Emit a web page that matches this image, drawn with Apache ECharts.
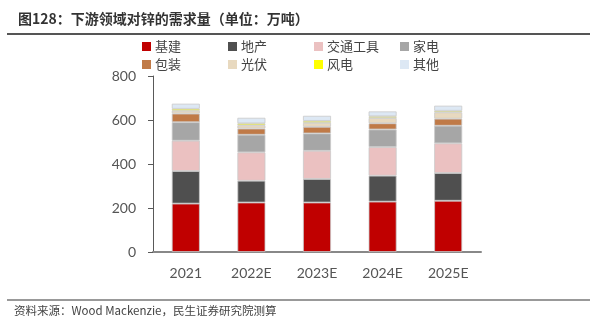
<!DOCTYPE html>
<html>
<head>
<meta charset="utf-8">
<script src="https://cdn.jsdelivr.net/npm/echarts@6/dist/echarts.min.js"></script>
<style>html,body{margin:0;padding:0;background:#fff;}#c{width:597px;height:323px;}</style>
</head>
<body>
<div id="c"></div>
<script>
const categories = ['2021', '2022E', '2023E', '2024E', '2025E'];
const infra     = [220, 225, 225, 229, 233];
const realty    = [148,  99, 107, 118, 126];
const transport = [138, 129, 128, 130, 135];
const appliance = [ 84,  80,  79,  80,  80];
const packaging = [ 39,  28,  30,  28,  32];
const solar     = [ 13,  15,  18,  24,  29];
const wind      = [  9,   9,   9,   8,   7];
const others    = [ 23,  25,  23,  22,  23];
const yTicks = [0, 200, 400, 600, 800];

const seriesDefs = [
  ['基建', infra, '#C00000'],
  ['地产', realty, '#4F4F4F'],
  ['交通工具', transport, '#EBC1C1'],
  ['家电', appliance, '#A6A6A6'],
  ['包装', packaging, '#C07A47'],
  ['光伏', solar, '#E8D9BF'],
  ['风电', wind, '#FFFF00'],
  ['其他', others, '#DDE8F4']
];

const font = '"Noto Sans CJK SC", "Noto Sans", sans-serif';
const legendCols = [142, 228, 314, 400];
const legendRows = [40, 58];
const legends = seriesDefs.map((s, i) => ({
  left: legendCols[i % 4], top: legendRows[Math.floor(i / 4)],
  padding: 0,
  itemWidth: 9, itemHeight: 9, icon: 'rect',
  itemStyle: {borderWidth: 0},
  textStyle: {fontSize: 13, color: '#444', fontFamily: font, padding: [0, 0, 0, -1]},
  data: [s[0]]
}));

const chart = echarts.init(document.getElementById('c'), null, {renderer: 'canvas'});
chart.setOption({
  animation: false,
  textStyle: {fontFamily: font},
  title: {
    text: '图128：下游领域对锌的需求量（单位：万吨）',
    left: 13, top: 7,
    textStyle: {fontSize: 14, fontWeight: 'bold', color: '#333', fontFamily: font}
  },
  graphic: [
    {type: 'line', shape: {x1: 7, y1: 34, x2: 590, y2: 34}, style: {stroke: '#555', lineWidth: 2}},
    {type: 'line', shape: {x1: 7, y1: 300, x2: 590, y2: 300}, style: {stroke: '#777', lineWidth: 1.5}},
    {type: 'text', left: 14, top: 305, style: {text: '资料来源：Wood Mackenzie，民生证券研究院测算', fontSize: 11.5, fill: '#444', fontFamily: font}}
  ],
  legend: legends,
  grid: {left: 153, right: 116, top: 76, bottom: 71},
  xAxis: {
    type: 'category',
    data: categories,
    axisLine: {lineStyle: {color: '#888', width: 2}},
    axisTick: {show: false},
    axisLabel: {fontSize: 14, color: '#555', margin: 14, fontFamily: 'Lato, "Open Sans", sans-serif'}
  },
  yAxis: {
    type: 'value',
    min: yTicks[0], max: yTicks[yTicks.length - 1], interval: 200,
    axisLine: {show: true, lineStyle: {color: '#595959', width: 1}},
    axisTick: {show: true, inside: false, length: 5, lineStyle: {color: '#595959'}},
    splitLine: {show: false},
    axisLabel: {fontSize: 14, color: '#555', margin: 17, fontFamily: 'Lato, "Open Sans", sans-serif'}
  },
  series: seriesDefs.map(s => ({
    name: s[0],
    type: 'bar',
    stack: 'total',
    barWidth: 28,
    data: s[1],
    itemStyle: {color: s[2], borderColor: '#C9C9C9', borderWidth: 0.8}
  }))
});
</script>
</body>
</html>
